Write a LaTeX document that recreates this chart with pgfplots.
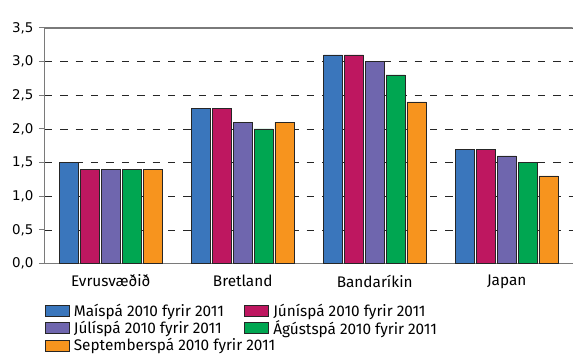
\documentclass[border=0pt]{standalone}
\usepackage{fontspec}
\setmainfont{Fira Sans}
\newfontfamily\tickfont{DejaVu Sans}
\usepackage{pgfplots}
\pgfplotsset{compat=1.18}
\definecolor{cBlue}{HTML}{3A76BC}
\definecolor{cMag}{HTML}{BE1760}
\definecolor{cPur}{HTML}{6F66AE}
\definecolor{cGrn}{HTML}{00A651}
\definecolor{cOra}{HTML}{F7941E}
\definecolor{axgray}{HTML}{7A7A7A}
\begin{document}
\begin{tikzpicture}
\begin{axis}[
  scale only axis,
  width=531bp, height=237bp,
  xmin=-0.5, xmax=3.5,
  ymin=0, ymax=3.5,
  ybar, bar width=0.143,
  axis x line*=bottom, axis y line*=left,
  axis line style={axgray, line width=1pt},
  xtick={0,1,2,3},
  xticklabels={Evrusvæðið,Bretland,Bandaríkin,Japan},
  x tick label style={font=\fontsize{15.5}{18}\selectfont, yshift=-2bp},
  extra x ticks={-0.5,0.5,1.5,2.5,3.5},
  extra x tick labels={},
  extra x tick style={major tick length=6bp, tick style={axgray, line width=1pt}, xtick pos=bottom, xtick align=outside},
  major x tick style={draw=none},
  ytick={0,0.5,...,3.5},
  ytick align=outside, ytick pos=left,
  major tick length=6bp,
  y tick style={axgray, line width=1pt},
  ymajorgrids,
  grid style={black!85, dash pattern=on 7.5bp off 8bp, line width=0.6pt},
  yticklabel style={font=\tickfont\fontsize{13.5}{16}\selectfont, xshift=-2bp},
  /pgf/number format/.cd, fixed, fixed zerofill, precision=1, use comma, assume math mode=true,
  /pgfplots/.cd,
  every axis plot/.append style={draw=black!85, line width=0.5pt},
  legend columns=2,
  legend cell align=left,
  legend style={draw=none, fill=none, at={(0,-0.17)}, anchor=north west,
     font=\fontsize{15.5}{19.5}\selectfont, inner sep=0pt, row sep=1.5bp,
     /tikz/every even column/.append style={column sep=16bp},
     nodes={inner ysep=0.5bp, inner xsep=4.5bp}},
  legend image code/.code={\draw[#1,draw=black!85,line width=0.6pt] (0bp,-5.5bp) rectangle (24bp,5.5bp);},
]
\addplot[fill=cBlue, bar shift=-0.316] coordinates {(0,1.5) (1,2.3) (2,3.1) (3,1.7)};
\addplot[fill=cMag, bar shift=-0.158] coordinates {(0,1.4) (1,2.3) (2,3.1) (3,1.7)};
\addplot[fill=cPur, bar shift=0] coordinates {(0,1.4) (1,2.1) (2,3.0) (3,1.6)};
\addplot[fill=cGrn, bar shift=0.158] coordinates {(0,1.4) (1,2.0) (2,2.8) (3,1.5)};
\addplot[fill=cOra, bar shift=0.316] coordinates {(0,1.4) (1,2.1) (2,2.4) (3,1.3)};
\legend{Maíspá 2010 fyrir 2011, Júníspá 2010 fyrir 2011, Júlíspá 2010 fyrir 2011, Ágústspá 2010 fyrir 2011, \makebox[0pt][l]{Septemberspá 2010 fyrir 2011}}
\draw[axgray, line width=1.4pt] (rel axis cs:0,1) -- (rel axis cs:1,1);
\node[anchor=south west, font=\tickfont\fontsize{12.5}{14}\selectfont, inner sep=0pt] at ([yshift=8bp]rel axis cs:0,1) {\%};
\end{axis}
\useasboundingbox (-45bp,-100bp) rectangle (531bp,265bp);
\end{tikzpicture}
\end{document}
